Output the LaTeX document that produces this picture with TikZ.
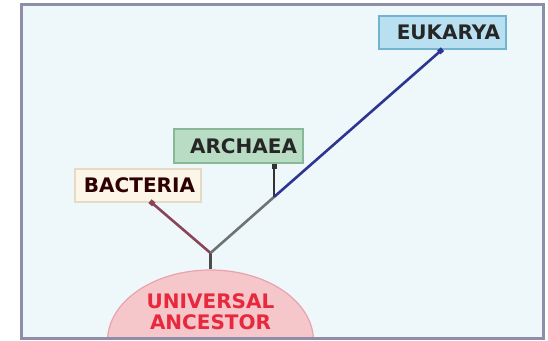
\documentclass[tikz,border=0pt]{standalone}
\usepackage{fontspec}
\setmainfont{DejaVu Sans}
\usetikzlibrary{arrows.meta,shapes.geometric}
\definecolor{bgcyan}{HTML}{EEF8FB}
\definecolor{framegray}{HTML}{8E8EA8}
\definecolor{eukfill}{HTML}{B9E0F0}
\definecolor{eukdraw}{HTML}{72B4CF}
\definecolor{arcfill}{HTML}{B8DCC4}
\definecolor{arcdraw}{HTML}{88B898}
\definecolor{bacfill}{HTML}{FBF6E8}
\definecolor{bacdraw}{HTML}{E6DAC2}
\definecolor{uafill}{HTML}{F5C6CA}
\definecolor{uadraw}{HTML}{E9A3AC}
\definecolor{uatext}{HTML}{E8283C}
\definecolor{baclinecol}{HTML}{8A4458}
\definecolor{stemgray}{HTML}{6E7272}
\definecolor{eukline}{HTML}{2E3590}
\begin{document}
\begin{tikzpicture}[
      x=1pt, y=-1pt,
      font=\bfseries\fontsize{20}{21}\selectfont,
      box/.style={
        draw, line width=1.8pt, inner xsep=6pt, inner ysep=9.5pt,
        text height=14.6pt, text depth=0pt, align=right, text=black!85
      },
      ancestor/.style={
        ellipse, draw=uadraw, fill=uafill, line width=1.2pt,
        minimum width=206pt, minimum height=142pt
      },
      branch/.style={line width=2.6pt, -{Square[length=5pt,width=5pt]}}
    ]
    \useasboundingbox (0,0) rectangle (548,340);
    \fill[bgcyan] (21,4) rectangle (543,338);

    \begin{scope}
      \clip (21,4) rectangle (543,338);
      \node[ancestor] (ua) at (210.5,341) {};
    \end{scope}
    \node[text=uatext, align=center] (uatxt) at (210.5,312)
      {UNIVERSAL\\ANCESTOR};

    \node[box, draw=eukdraw, fill=eukfill, text width=115pt] (euk) at (442.5,32.5) {EUKARYA};
    \node[box, draw=arcdraw, fill=arcfill, text width=117pt] (arc) at (238.5,146) {ARCHAEA};
    \node[box, draw=bacdraw, fill=bacfill, text width=114pt, text=black!70!red!60!black] (bac) at (138,185.5) {BACTERIA};

    \coordinate (fork) at (210.5,253);
    \coordinate (split) at (274,197);

    \draw[line width=2.6pt, black!70] (ua.north) -- (fork);
    \draw[branch, baclinecol] (fork) -- ([xshift=12pt,yshift=2pt]bac.south);
    \draw[line width=2.6pt, stemgray] (fork) -- (split);
    \draw[branch, black!80] (split) -- (split |- arc.south);
    \draw[branch, eukline] (split) -- ([yshift=1pt]euk.south);

    \draw[framegray, line width=3pt] (21,4) rectangle (543,338);
  \end{tikzpicture}
\end{document}
